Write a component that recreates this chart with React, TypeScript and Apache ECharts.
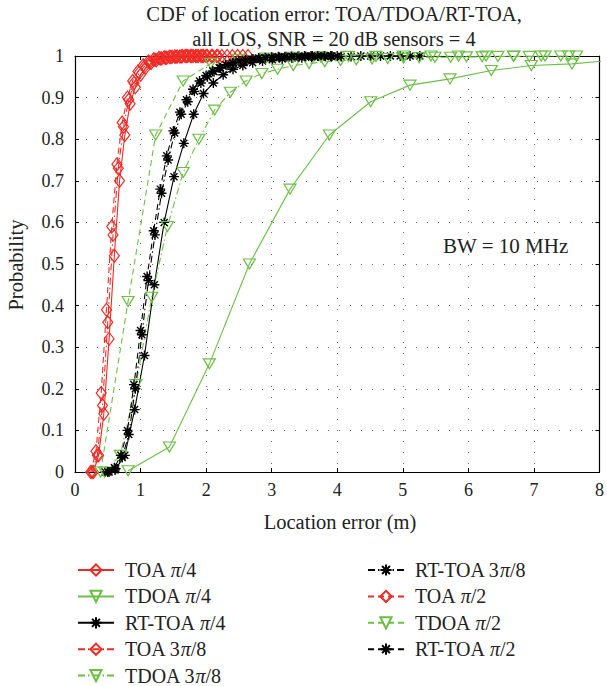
import React, { useEffect, useRef } from "react";
import * as echarts from "echarts";

const FONT = "'Liberation Serif', 'DejaVu Serif', serif";
const RED = "#ee2a24";
const GREEN = "#6cbf45";
const BLACK = "#000000";

const seriesNames = [
  "TOA π/4",
  "TDOA π/4",
  "RT-TOA π/4",
  "TOA 3π/8",
  "TDOA 3π/8",
  "RT-TOA 3π/8",
  "TOA π/2",
  "TDOA π/2",
  "RT-TOA π/2",
];

const xTicks = [0, 1, 2, 3, 4, 5, 6, 7, 8];
const yTicks = [0, 0.1, 0.2, 0.3, 0.4, 0.5, 0.6, 0.7, 0.8, 0.9, 1];

// TOA pi/4 (solid red)
const toaPi4X = [0.28, 0.36, 0.44, 0.52, 0.6, 0.68, 0.76, 0.84, 0.92, 1.0, 1.08, 1.16, 1.24, 1.32, 1.4, 1.48, 1.56, 1.64, 1.72, 1.8, 1.88, 1.96];
const toaPi4Y = [0, 0.04, 0.14, 0.32, 0.52, 0.7, 0.81, 0.885, 0.925, 0.955, 0.972, 0.983, 0.99, 0.994, 0.996, 0.998, 0.999, 1, 1, 1, 1, 1];

// TDOA pi/4 (solid green)
const tdoaPi4X = [0.81, 1.44, 2.05, 2.66, 3.28, 3.88, 4.51, 5.11, 5.72, 6.35, 6.96, 7.58, 8.19];
const tdoaPi4Y = [0.003, 0.06, 0.26, 0.5, 0.68, 0.81, 0.89, 0.93, 0.945, 0.965, 0.977, 0.981, 0.99];

// RT-TOA pi/4 (solid black)
const rtPi4X = [0.46, 0.61, 0.76, 0.91, 1.06, 1.21, 1.36, 1.51, 1.66, 1.81, 1.96, 2.11, 2.26, 2.41, 2.56, 2.71, 2.86, 3.01, 3.16, 3.31, 3.46, 3.61, 3.76, 3.91, 4.06, 4.21, 4.36, 4.51, 4.66, 4.81, 4.96, 5.11, 5.26];
const rtPi4Y = [0, 0.005, 0.04, 0.15, 0.28, 0.45, 0.6, 0.71, 0.79, 0.86, 0.91, 0.935, 0.955, 0.968, 0.977, 0.984, 0.988, 0.991, 0.993, 0.995, 0.996, 0.997, 0.998, 0.999, 0.999, 0.999, 1, 1, 1, 1, 1, 1, 1];

// TOA 3pi/8 (dash-dot red)
const toa3Pi8X = [0.26, 0.34, 0.42, 0.5, 0.58, 0.66, 0.74, 0.82, 0.9, 0.98, 1.06, 1.14, 1.22, 1.3, 1.38, 1.46, 1.54, 1.62, 1.7, 1.78, 1.86, 1.94, 2.02, 2.1, 2.18];
const toa3Pi8Y = [0, 0.04, 0.16, 0.36, 0.57, 0.73, 0.83, 0.895, 0.935, 0.96, 0.975, 0.985, 0.991, 0.994, 0.996, 0.997, 0.998, 0.999, 1, 1, 1, 1, 1, 1, 1];

// TDOA 3pi/8 (dash-dot green)
const tdoa3Pi8X = [0.45, 0.69, 0.93, 1.17, 1.41, 1.65, 1.89, 2.13, 2.37, 2.61, 2.85, 3.09, 3.33, 3.57, 3.81, 4.05, 4.29, 4.53, 4.77, 5.01, 5.25, 5.49, 5.73, 5.97, 6.21, 6.45, 6.69, 6.93, 7.17, 7.41, 7.65];
const tdoa3Pi8Y = [0, 0.04, 0.21, 0.42, 0.59, 0.72, 0.8, 0.87, 0.913, 0.94, 0.958, 0.968, 0.977, 0.982, 0.986, 0.989, 0.991, 0.993, 0.994, 0.995, 0.996, 0.997, 0.997, 0.998, 0.998, 0.999, 0.999, 0.999, 1, 1, 1];

// RT-TOA 3pi/8 (dash-dot black)
const rt3Pi8X = [0.52, 0.62, 0.72, 0.82, 0.92, 1.02, 1.12, 1.22, 1.32, 1.42, 1.52, 1.62, 1.72, 1.82, 1.92, 2.02, 2.12, 2.22, 2.32, 2.42, 2.52, 2.62, 2.72, 2.82, 2.92, 3.02, 3.12, 3.22, 3.32, 3.42, 3.52, 3.62, 3.72, 3.82, 3.92];
const rt3Pi8Y = [0, 0.008, 0.035, 0.09, 0.2, 0.33, 0.46, 0.57, 0.67, 0.75, 0.815, 0.86, 0.89, 0.915, 0.935, 0.95, 0.962, 0.971, 0.978, 0.983, 0.987, 0.99, 0.992, 0.994, 0.995, 0.996, 0.997, 0.998, 0.998, 0.999, 0.999, 1, 1, 1, 1];

// TOA pi/2 (dashed red)
const toaPi2X = [0.24, 0.32, 0.4, 0.48, 0.56, 0.64, 0.72, 0.8, 0.88, 0.96, 1.04, 1.12, 1.2, 1.28, 1.36, 1.44, 1.52, 1.6, 1.68, 1.76, 1.84, 1.92, 2.0, 2.08, 2.16, 2.24, 2.32, 2.4, 2.48, 2.56, 2.64];
const toaPi2Y = [0, 0.05, 0.19, 0.39, 0.59, 0.74, 0.84, 0.9, 0.94, 0.963, 0.978, 0.987, 0.992, 0.995, 0.997, 0.998, 0.999, 0.999, 1, 1, 1, 1, 1, 1, 1, 1, 1, 1, 1, 1, 1];

// TDOA pi/2 (dashed green)
const tdoaPi2X = [0.39, 0.81, 1.23, 1.65, 2.07, 2.49, 2.91, 3.33, 3.75, 4.17, 4.59, 5.01, 5.43, 5.85, 6.27, 6.69, 7.11, 7.53];
const tdoaPi2Y = [0, 0.41, 0.81, 0.94, 0.982, 0.992, 0.995, 0.997, 0.998, 0.999, 0.999, 1, 1, 1, 1, 1, 1, 1];

// RT-TOA pi/2 (dashed black)
const rtPi2X = [0.5, 0.6, 0.7, 0.8, 0.9, 1.0, 1.1, 1.2, 1.3, 1.4, 1.5, 1.6, 1.7, 1.8, 1.9, 2.0, 2.1, 2.2, 2.3, 2.4, 2.5, 2.6, 2.7, 2.8, 2.9, 3.0, 3.1, 3.2, 3.3, 3.4, 3.5, 3.6, 3.7, 3.8, 3.9, 4.0];
const rtPi2Y = [0, 0.01, 0.04, 0.1, 0.21, 0.34, 0.47, 0.58, 0.68, 0.76, 0.82, 0.865, 0.895, 0.92, 0.94, 0.953, 0.964, 0.972, 0.979, 0.984, 0.988, 0.991, 0.993, 0.995, 0.996, 0.997, 0.998, 0.998, 0.999, 0.999, 1, 1, 1, 1, 1, 1];

const DIAMOND = "path://M5,0L10,6.5L5,13L0,6.5Z";
const TRI_DOWN = "path://M0,0L12,0L6,10Z";
const STAR = "path://M5,0L5,10M0,5L10,5M1.5,1.5L8.5,8.5M1.5,8.5L8.5,1.5";

const SOLID: any = "solid";
const DASHED: any = [6, 4];
const DASHDOT: any = [7, 3, 1.5, 3];

function pairs(xs: number[], ys: number[]) {
  return xs.map((x, i) => [x, ys[i]]);
}

function mkSeries(name: string, xs: number[], ys: number[], color: string, kind: string, dash: any) {
  const symbol = kind === "toa" ? DIAMOND : kind === "tdoa" ? TRI_DOWN : STAR;
  const size = kind === "toa" ? [10, 13] : kind === "tdoa" ? [12, 10] : [10, 10];
  return {
    name,
    type: "line",
    data: pairs(xs, ys),
    symbol,
    symbolSize: size,
    symbolKeepAspect: false,
    showAllSymbol: true,
    clip: true,
    lineStyle: { color, width: 1.1, type: dash },
    itemStyle: { color: "rgba(0,0,0,0)", borderColor: color, borderWidth: kind === "rt" ? 1.4 : 1.2 },
    emphasis: { disabled: true },
    silent: true,
  };
}

export default function App() {
  const ref = useRef<HTMLDivElement>(null);
  useEffect(() => {
    if (!ref.current) return;
    const chart = echarts.init(ref.current, undefined, { renderer: "svg" });
    const labelStyle = { fontFamily: FONT, fontSize: 18, color: "#222" };
    const legendText = {
      fontFamily: FONT,
      fontSize: 20,
      lineHeight: 18,
      color: "#222",
      padding: [0, 0, 0, 6],
      rich: { i: { fontFamily: FONT, fontSize: 20, lineHeight: 18, fontStyle: "italic", color: "#222" } },
    };
    const fmt = (n: string) => n.replace("π", "{i|π}");
    const series = [
      mkSeries(seriesNames[0], toaPi4X, toaPi4Y, RED, "toa", SOLID),
      mkSeries(seriesNames[1], tdoaPi4X, tdoaPi4Y, GREEN, "tdoa", SOLID),
      mkSeries(seriesNames[2], rtPi4X, rtPi4Y, BLACK, "rt", SOLID),
      mkSeries(seriesNames[3], toa3Pi8X, toa3Pi8Y, RED, "toa", DASHDOT),
      mkSeries(seriesNames[4], tdoa3Pi8X, tdoa3Pi8Y, GREEN, "tdoa", DASHDOT),
      mkSeries(seriesNames[5], rt3Pi8X, rt3Pi8Y, BLACK, "rt", DASHDOT),
      mkSeries(seriesNames[6], toaPi2X, toaPi2Y, RED, "toa", DASHED),
      mkSeries(seriesNames[7], tdoaPi2X, tdoaPi2Y, GREEN, "tdoa", DASHED),
      mkSeries(seriesNames[8], rtPi2X, rtPi2Y, BLACK, "rt", DASHED),
    ];
    const dotted = { show: true, lineStyle: { color: "#666", width: 1, type: [1, 10] as any } };
    const legendBase = {
      orient: "vertical",
      top: 560,
      height: 200,
      padding: 0,
      itemWidth: 36,
      itemHeight: 14,
      itemGap: 6.4,
      selectedMode: false,
      formatter: fmt,
      textStyle: legendText,
    };
    const option: any = {
      animation: false,
      backgroundColor: "#fff",
      grid: { left: 75, top: 56, right: 4, bottom: 214, containLabel: false },
      xAxis: [
        {
          type: "value",
          min: xTicks[0],
          max: xTicks[xTicks.length - 1],
          interval: 1,
          position: "bottom",
          axisLine: { show: true, onZero: false, lineStyle: { color: "#000", width: 1.2 } },
          axisTick: { show: true, inside: true, length: 4, lineStyle: { color: "#000" } },
          axisLabel: { ...labelStyle, margin: 9 },
          splitLine: dotted,
        },
        {
          type: "value",
          min: xTicks[0],
          max: xTicks[xTicks.length - 1],
          interval: 1,
          position: "top",
          axisLine: { show: true, onZero: false, lineStyle: { color: "#000", width: 1.2 } },
          axisTick: { show: true, inside: true, length: 4, lineStyle: { color: "#000" } },
          axisLabel: { show: false },
          splitLine: { show: false },
        },
      ],
      yAxis: [
        {
          type: "value",
          min: yTicks[0],
          max: yTicks[yTicks.length - 1],
          interval: 0.1,
          position: "left",
          axisLine: { show: true, onZero: false, lineStyle: { color: "#000", width: 1.2 } },
          axisTick: { show: true, inside: true, length: 4, lineStyle: { color: "#000" } },
          axisLabel: { ...labelStyle, margin: 11, formatter: (v: number) => String(Math.round(v * 10) / 10) },
          splitLine: dotted,
        },
        {
          type: "value",
          min: yTicks[0],
          max: yTicks[yTicks.length - 1],
          interval: 0.1,
          position: "right",
          axisLine: { show: true, onZero: false, lineStyle: { color: "#000", width: 1.2 } },
          axisTick: { show: true, inside: true, length: 4, lineStyle: { color: "#000" } },
          axisLabel: { show: false },
          splitLine: { show: false },
        },
      ],
      legend: [
        { ...legendBase, data: seriesNames.slice(0, 5), left: 77 },
        { ...legendBase, data: seriesNames.slice(5), left: 367 },
      ],
      graphic: [
        {
          type: "text",
          x: 334,
          y: 14,
          style: { text: "CDF of location error: TOA/TDOA/RT-TOA,", fontFamily: FONT, fontSize: 20.5, fill: "#222", textAlign: "center", textVerticalAlign: "middle", align: "center", verticalAlign: "middle" },
        },
        {
          type: "text",
          x: 334,
          y: 39,
          style: { text: "all LOS, SNR = 20 dB sensors = 4", fontFamily: FONT, fontSize: 20.5, fill: "#222", textAlign: "center", textVerticalAlign: "middle", align: "center", verticalAlign: "middle" },
        },
        {
          type: "text",
          x: 340,
          y: 522,
          style: { text: "Location error (m)", fontFamily: FONT, fontSize: 20.5, fill: "#222", textAlign: "center", textVerticalAlign: "middle", align: "center", verticalAlign: "middle" },
        },
        {
          type: "text",
          x: 16,
          y: 265,
          rotation: Math.PI / 2,
          style: { text: "Probability", fontFamily: FONT, fontSize: 20.5, fill: "#222", textAlign: "center", textVerticalAlign: "middle", align: "center", verticalAlign: "middle" },
        },
        {
          type: "text",
          x: 443,
          y: 246,
          style: { text: "BW = 10 MHz", fontFamily: FONT, fontSize: 21, fill: "#222", textAlign: "left", textVerticalAlign: "middle", align: "left", verticalAlign: "middle" },
        },
      ],
      series,
    };
    chart.setOption(option);
    return () => chart.dispose();
  }, []);
  return <div ref={ref} style={{ position: "fixed", left: 0, top: 0, width: 607, height: 686 }} />;
}
